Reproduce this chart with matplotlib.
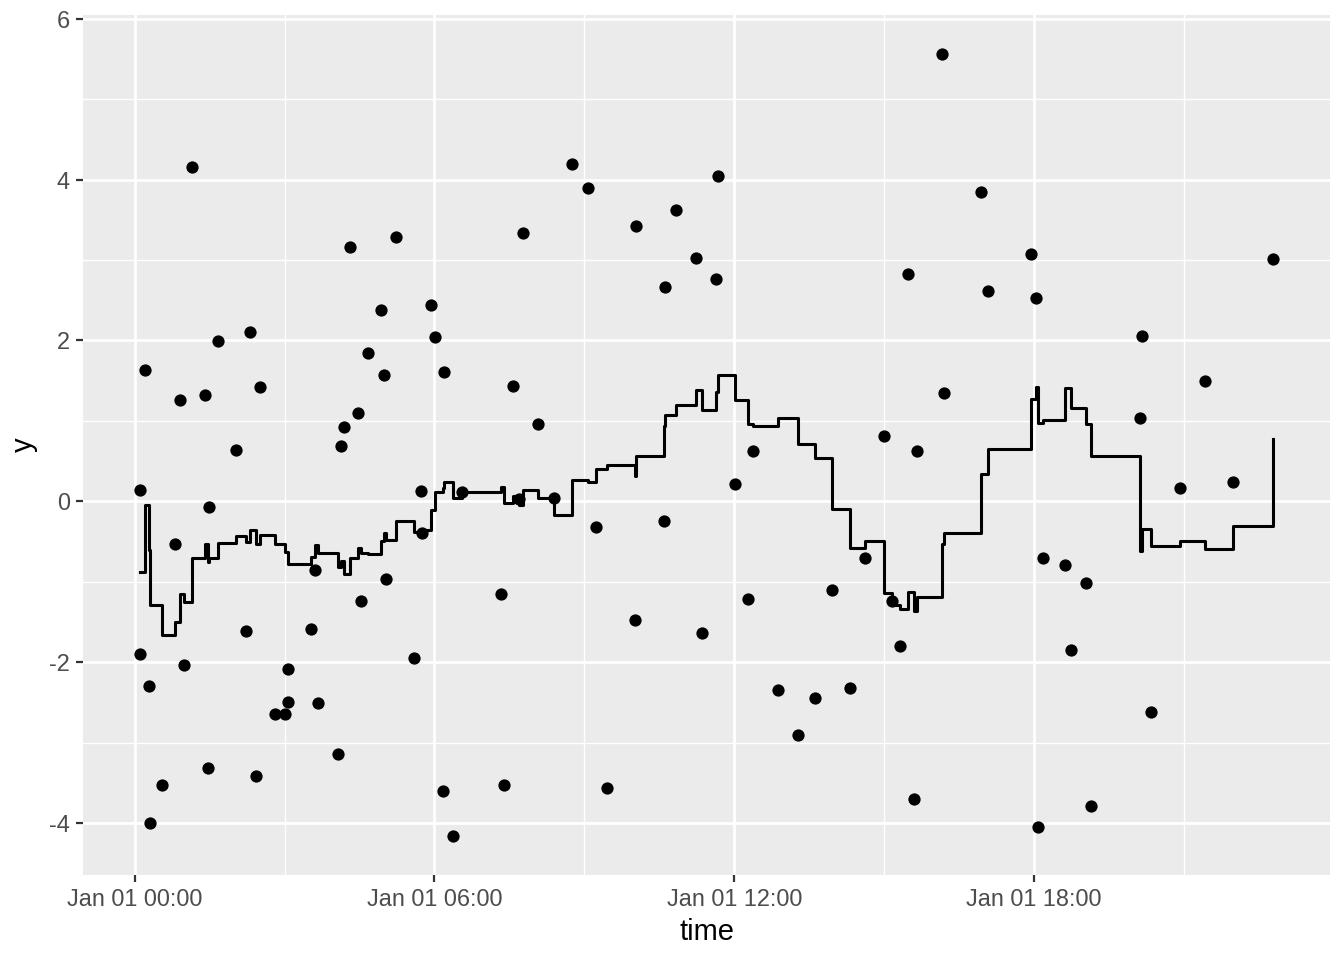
import numpy as np
import pandas as pd
import matplotlib
matplotlib.use("Agg")
import matplotlib.pyplot as plt
import matplotlib.dates as mdates
from matplotlib.ticker import MultipleLocator

# minutes after midnight, Jan 01
minutes = [6.0, 6.0, 12.0, 16.8, 18.0, 32.5, 48.1, 54.1, 58.9, 68.5,
           84.2, 87.8, 89.0, 99.8, 121.5, 133.5, 138.3, 145.5, 150.3, 168.4,
           180.4, 184.0, 184.6, 211.7, 216.5, 220.1, 244.1, 247.7, 251.3, 258.6,
           268.2, 271.8, 280.2, 295.8, 299.4, 301.8, 313.9, 335.5, 343.9, 345.1,
           355.9, 360.8, 370.4, 371.6, 382.4, 393.3, 439.6, 443.8, 454.6, 461.8,
           466.6, 484.6, 503.9, 525.5, 544.8, 554.4, 567.6, 601.3, 602.5, 636.2,
           637.4, 650.6, 673.5, 680.7, 697.5, 699.9, 720.4, 736.0, 742.0, 772.1,
           796.1, 816.6, 837.0, 858.7, 876.7, 899.5, 909.2, 918.8, 928.4, 935.6,
           939.9, 969.3, 971.7, 1016.2, 1024.6, 1076.3, 1082.3, 1084.7, 1090.8, 1117.2,
           1124.4, 1142.5, 1148.5, 1207.4, 1209.8, 1220.6, 1255.5, 1285.6, 1319.2, 1367.3]

y = [-1.90, 0.14, 1.63, -2.30, -4.00, -3.53, -0.53, 1.26, -2.03, 4.16,
     1.32, -3.32, -0.07, 1.99, 0.64, -1.61, 2.10, -3.42, 1.42, -2.64,
     -2.64, -2.49, -2.08, -1.59, -0.86, -2.51, -3.14, 0.69, 0.93, 3.16,
     1.10, -1.24, 1.84, 2.38, 1.57, -0.96, 3.28, -1.95, 0.13, -0.39,
     2.44, 2.04, -3.60, 1.61, -4.16, 0.11, -1.15, -3.53, 1.43, 0.03,
     3.33, 0.96, 0.04, 4.19, 3.90, -0.32, -3.57, -1.48, 3.42, -0.25,
     2.66, 3.62, 3.03, -1.64, 2.77, 4.04, 0.22, -1.22, 0.62, -2.35,
     -2.91, -2.45, -1.10, -2.32, -0.71, 0.81, -1.24, -1.80, 2.82, -3.70,
     0.63, 5.56, 1.35, 3.84, 2.62, 3.08, 2.53, -4.05, -0.71, -0.79,
     -1.85, -1.01, -3.79, 1.04, 2.05, -2.62, 0.16, 1.50, 0.24, 3.01]

time = pd.Timestamp("2000-01-01") + pd.to_timedelta(minutes, unit="min")
s = pd.Series(y, index=time)
# trailing 3-hour mean; rows sharing a timestamp get the same value
roll = s.rolling("3h").mean().groupby(level=0).transform("last")

plt.rcParams["font.family"] = ["Liberation Sans", "DejaVu Sans"]
plt.rcParams["axes.unicode_minus"] = False

fig = plt.figure(figsize=(13.44, 9.6), dpi=100)
ax = fig.add_axes([83 / 1344, 1 - 875 / 960, 1247 / 1344, 860 / 960])
ax.set_facecolor("#EBEBEB")
ax.set_axisbelow(True)

ax.step(time, roll.values, where="post", color="black", lw=2.2, zorder=2)
ax.scatter(time, y, s=78, color="black", linewidths=0, zorder=3)

ax.margins(x=0.05, y=0.05)

ax.xaxis.set_major_locator(mdates.HourLocator(byhour=[0, 6, 12, 18]))
ax.xaxis.set_minor_locator(mdates.HourLocator(byhour=[3, 9, 15, 21]))
ax.xaxis.set_major_formatter(mdates.DateFormatter("%b %d %H:%M"))
ax.yaxis.set_major_locator(MultipleLocator(2))
ax.yaxis.set_minor_locator(MultipleLocator(1))

ax.grid(which="major", color="white", lw=2.0)
ax.grid(which="minor", color="white", lw=1.0)
for sp in ax.spines.values():
    sp.set_visible(False)

ax.tick_params(which="major", length=5.3, width=1.6, color="#333333",
               labelsize=16.9, labelcolor="#4D4D4D", pad=4.0)
ax.tick_params(which="minor", length=0)

ax.set_xlabel("time", fontsize=21, labelpad=5)
ax.set_ylabel("y", fontsize=21, labelpad=8)

fig.savefig("out.png", dpi=100, facecolor="white")
